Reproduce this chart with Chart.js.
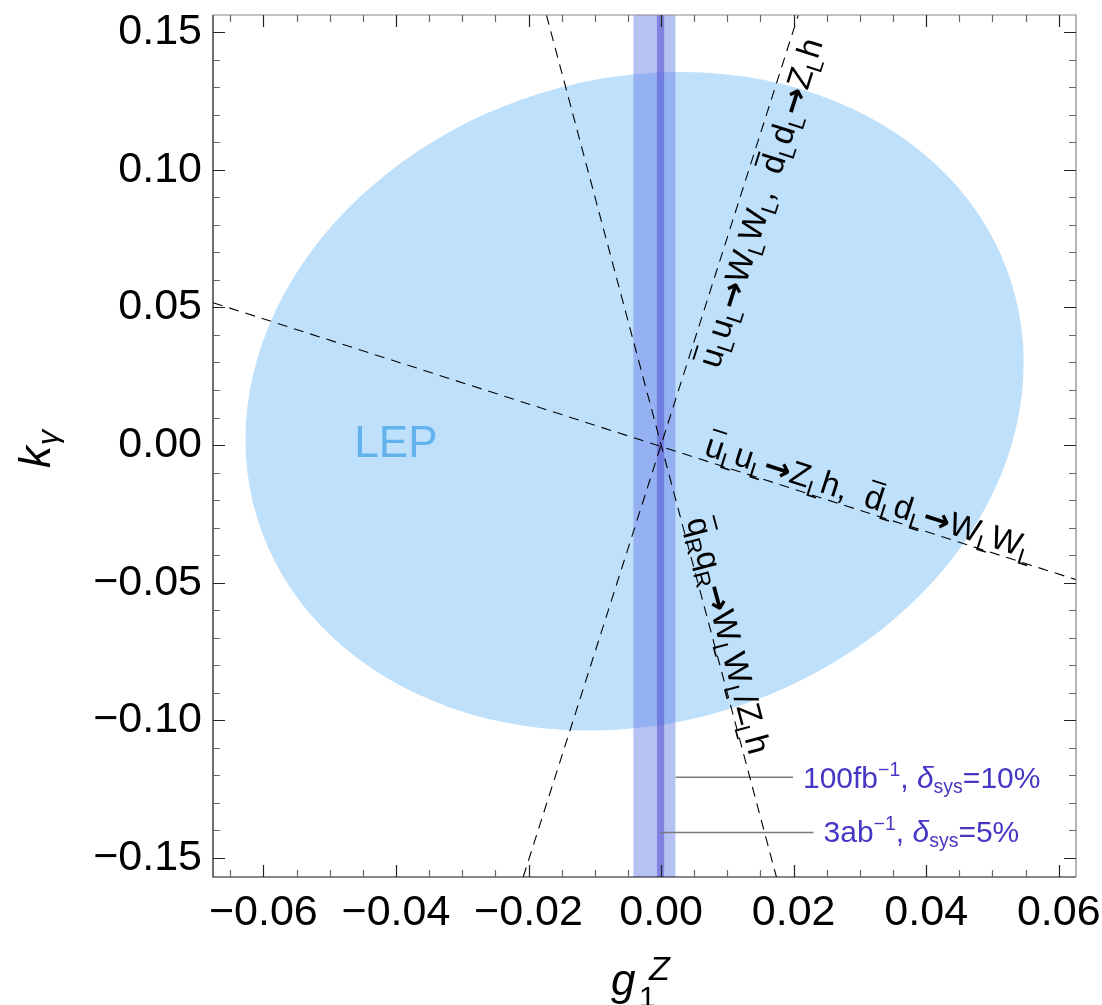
<!DOCTYPE html>
<html><head><meta charset="utf-8">
<script src="https://cdn.jsdelivr.net/npm/chart.js@4.4.0/dist/chart.umd.min.js"></script>
<style>html,body{margin:0;padding:0;background:#fff;}canvas{display:block;}</style>
</head><body>
<canvas id="c" width="1102" height="1005"></canvas>
<script>
// ---- axis ranges and ticks ----
const xRange = [-0.0676, 0.0626];
const yRange = [-0.1569, 0.1562];
const xMajorTicks = [-0.06, -0.04, -0.02, 0.00, 0.02, 0.04, 0.06];
const xMinorTicks = [-0.065, -0.055, -0.05, -0.045, -0.035, -0.03, -0.025, -0.015, -0.01, -0.005,
                     0.005, 0.01, 0.015, 0.025, 0.03, 0.035, 0.045, 0.05, 0.055];
const yMajorTicks = [-0.15, -0.10, -0.05, 0.00, 0.05, 0.10, 0.15];
const yMinorTicks = [-0.14, -0.13, -0.12, -0.11, -0.09, -0.08, -0.07, -0.06, -0.04, -0.03, -0.02, -0.01,
                     0.01, 0.02, 0.03, 0.04, 0.06, 0.07, 0.08, 0.09, 0.11, 0.12, 0.13, 0.14];

// ---- LEP ellipse: centre and two conjugate semi-diameters (data units) ----
const lepCenter = [-0.0040, 0.0159];
const lepSemiU  = [0.0587, 0.0140];
const lepSemiV  = [0.0000, 0.1188];

// ---- dashed lines (end points in data units) ----
const lineUZh = [[-0.0676, 0.0517], [0.0626, -0.0489]];   // uL uL -> ZL h, dL dL -> WL WL
const lineUWW = [[-0.0208, -0.1569], [0.0207, 0.1562]];   // uL uL -> WL WL, dL dL -> ZL h
const lineQR  = [[-0.0173, 0.1562], [0.0174, -0.1569]];   // qR qR -> WL WL / ZL h

// ---- bounds on g1Z (bands) ----
const band100fb = [-0.0042, 0.0022];
const band3ab   = [-0.00065, 0.0005];
const bandY     = [-0.1584, 0.1570];

// ---- leader lines of the band labels ----
const leader100fb = [[0.0022, -0.1207], [0.0199, -0.1207]];
const leader3ab   = [[-0.0001, -0.1407], [0.0230, -0.1407]];

const FAM = '"Liberation Sans", Arial, sans-serif';
const AFAM = '"DejaVu Sans", sans-serif';
const toPts = arr => arr.map(p => ({x: p[0], y: p[1]}));
const fmt = v => { const a = Math.abs(v).toFixed(2); return v < -1e-9 ? '\u2212' + a : a; };

// rich text helpers
const n = t => ({t});
const ov = t => ({t, o: 1});
const sb = t => ({t, s: 0.68, dy: 0.22});
const ar = () => ({t: '\u2192', s: 0.98, f: AFAM, b: 1, dy: 0.02});
function drawRich(ctx, runs, x, y, size, color) {
  let cx = x;
  ctx.fillStyle = color;
  ctx.textBaseline = 'alphabetic';
  ctx.textAlign = 'left';
  for (const r of runs) {
    const s = size * (r.s || 1);
    ctx.font = (r.i ? 'italic ' : '') + (r.b ? 'bold ' : '') + s + 'px ' + (r.f || FAM);
    const w = ctx.measureText(r.t).width;
    const by = y + (r.dy || 0) * size;
    ctx.fillText(r.t, cx, by);
    if (r.o) ctx.fillRect(cx + w * 0.1, by - 0.8 * s - 1.8, w * 0.8, 1.9);
    cx += w;
  }
  return cx - x;
}

const labelA = [ov('u'), sb('L'), n('u'), sb('L'), ar(), n('W'), sb('L'), n('W'), sb('L'), n(',  '),
                ov('d'), sb('L'), n('d'), sb('L'), ar(), n('Z'), sb('L'), n('h')];
const labelB = [ov('u'), sb('L'), n('u'), sb('L'), ar(), n('Z'), sb('L'), n('h'), n(',  '),
                ov('d'), sb('L'), n('d'), sb('L'), ar(), n('W'), sb('L'), n('W'), sb('L')];
const labelC = [ov('q'), sb('R'), n('q'), sb('R'), ar(), n('W'), sb('L'), n('W'), sb('L'), n('/'),
                n('Z'), sb('L'), n('h')];
const legend100 = [n('100fb'), {t: '\u22121', s: 0.65, dy: -0.4}, n(', '), {t: '\u03b4', i: 1}, {t: 'sys', s: 0.65, dy: 0.17}, n('=10%')];
const legend3 = [n('3ab'), {t: '\u22121', s: 0.65, dy: -0.4}, n(', '), {t: '\u03b4', i: 1}, {t: 'sys', s: 0.65, dy: 0.17}, n('=5%')];

const lineLabels = [
  {line: lineUWW, t: 0.600, off: -32, runs: labelA},
  {line: lineUZh, t: 0.566, off: 5, runs: labelB},
  {line: lineQR,  t: 0.588, off: 5, runs: labelC}
];

const drawPlugin = {
  id: 'drawPlugin',
  beforeDatasetsDraw(chart) {
    const ctx = chart.ctx, xs = chart.scales.x, ys = chart.scales.y, a = chart.chartArea;
    const cx = xs.getPixelForValue(lepCenter[0]), cy = ys.getPixelForValue(lepCenter[1]);
    const ux = xs.getPixelForValue(lepCenter[0] + lepSemiU[0]) - cx, uy = ys.getPixelForValue(lepCenter[1] + lepSemiU[1]) - cy;
    const vx = xs.getPixelForValue(lepCenter[0] + lepSemiV[0]) - cx, vy = ys.getPixelForValue(lepCenter[1] + lepSemiV[1]) - cy;
    ctx.save();
    ctx.beginPath(); ctx.rect(a.left, a.top, a.right - a.left, a.bottom - a.top); ctx.clip();
    ctx.save();
    ctx.transform(ux, uy, vx, vy, cx, cy);
    ctx.beginPath(); ctx.arc(0, 0, 1, 0, 2 * Math.PI);
    ctx.restore();
    ctx.fillStyle = '#BFE0FA';
    ctx.fill();
    ctx.font = '44px ' + FAM; ctx.fillStyle = '#62B2EE'; ctx.textAlign = 'center'; ctx.textBaseline = 'middle';
    ctx.fillText('LEP', xs.getPixelForValue(-0.0400), ys.getPixelForValue(0.0));
    ctx.restore();
  },
  afterDatasetsDraw(chart) {
    const ctx = chart.ctx, xs = chart.scales.x, ys = chart.scales.y, a = chart.chartArea;
    ctx.save();
    // frame
    ctx.lineWidth = 1.2;
    ctx.strokeStyle = '#888';
    ctx.beginPath(); ctx.moveTo(a.left, a.top); ctx.lineTo(a.right, a.top); ctx.lineTo(a.right, a.bottom); ctx.stroke();
    ctx.strokeStyle = '#111';
    ctx.beginPath(); ctx.moveTo(a.left, a.top); ctx.lineTo(a.left, a.bottom); ctx.lineTo(a.right, a.bottom); ctx.stroke();
    // ticks
    const tick = (vals, len, col) => {
      ctx.strokeStyle = col; ctx.lineWidth = 1.2;
      ctx.beginPath();
      for (const v of vals.x) {
        const p = Math.round(xs.getPixelForValue(v)) + 0.5;
        ctx.moveTo(p, a.bottom); ctx.lineTo(p, a.bottom - len);
        ctx.moveTo(p, a.top); ctx.lineTo(p, a.top + len);
      }
      for (const v of vals.y) {
        const p = Math.round(ys.getPixelForValue(v)) + 0.5;
        ctx.moveTo(a.left, p); ctx.lineTo(a.left + len, p);
        ctx.moveTo(a.right, p); ctx.lineTo(a.right - len, p);
      }
      ctx.stroke();
    };
    tick({x: xMinorTicks, y: yMinorTicks}, 7, '#666');
    tick({x: xMajorTicks, y: yMajorTicks}, 12, '#222');

    // labels along dashed lines
    ctx.beginPath(); ctx.rect(a.left, a.top, a.right - a.left, a.bottom - a.top); ctx.clip();
    for (const L of lineLabels) {
      const x1 = xs.getPixelForValue(L.line[0][0]), y1 = ys.getPixelForValue(L.line[0][1]);
      const x2 = xs.getPixelForValue(L.line[1][0]), y2 = ys.getPixelForValue(L.line[1][1]);
      const ang = Math.atan2(y2 - y1, x2 - x1);
      const ax = x1 + (x2 - x1) * L.t, ay = y1 + (y2 - y1) * L.t;
      ctx.save();
      ctx.translate(ax, ay); ctx.rotate(ang); ctx.translate(0, -L.off);
      drawRich(ctx, L.runs, 0, 0, 33, '#000');
      ctx.restore();
    }
    // band legend texts
    const l1x = xs.getPixelForValue(leader100fb[1][0]), l1y = ys.getPixelForValue(leader100fb[1][1]);
    drawRich(ctx, legend100, l1x + 10, l1y + 10.5, 30, '#4636C4');
    const l2x = xs.getPixelForValue(leader3ab[1][0]), l2y = ys.getPixelForValue(leader3ab[1][1]);
    drawRich(ctx, legend3, l2x + 10, l2y + 9.5, 30, '#4636C4');
    ctx.restore();

    // axis titles
    ctx.save();
    ctx.fillStyle = '#000'; ctx.textAlign = 'left'; ctx.textBaseline = 'alphabetic';
    ctx.font = 'italic 44px ' + FAM; ctx.fillText('g', 611, 995);
    ctx.font = '30px ' + FAM; ctx.fillText('1', 639, 1007);
    ctx.font = 'italic 34px ' + FAM; ctx.fillText('Z', 649, 980);
    ctx.translate(50, 468); ctx.rotate(-Math.PI / 2);
    ctx.font = 'italic 44px ' + FAM; ctx.fillText('k', 0, 0);
    const kw = ctx.measureText('k').width;
    ctx.font = 'italic 30px ' + FAM; ctx.fillText('\u03b3', kw + 1, 8);
    ctx.restore();
  }
};

const dashed = (pts) => ({data: toPts(pts), showLine: true, borderColor: '#000', borderWidth: 1.1,
  borderDash: [10, 7], pointRadius: 0, fill: false});
const solid = (pts) => ({data: toPts(pts), showLine: true, borderColor: '#7a7a7a', borderWidth: 1.5,
  pointRadius: 0, fill: false});
const band = (b, col) => ({data: [{x: b[0], y: bandY[1]}, {x: b[1], y: bandY[1]}], showLine: true,
  borderWidth: 0.01, borderColor: 'rgba(0,0,0,0)', backgroundColor: col, pointRadius: 0,
  fill: {value: bandY[0]}, clip: {left: 0, right: 0, top: 3, bottom: 5}});

new Chart(document.getElementById('c'), {
  type: 'scatter',
  data: {
    datasets: [
      Object.assign(dashed(lineUZh), {label: 'uu→Zh, dd→WW'}),
      Object.assign(dashed(lineUWW), {label: 'uu→WW, dd→Zh'}),
      Object.assign(dashed(lineQR), {label: 'qRqR→WW/Zh'}),
      Object.assign(solid(leader100fb), {label: 'leader 100fb'}),
      Object.assign(solid(leader3ab), {label: 'leader 3ab'}),
      Object.assign(band(band3ab, 'rgba(90,90,210,0.6)'), {label: '3ab-1, 5%'}),
      Object.assign(band(band100fb, 'rgba(95,120,230,0.45)'), {label: '100fb-1, 10%'})
    ]
  },
  options: {
    responsive: false,
    animation: false,
    layout: {padding: {top: 15, right: 26, left: 0, bottom: 0}},
    plugins: {legend: {display: false}, tooltip: {enabled: false}},
    scales: {
      x: {
        type: 'linear', min: xRange[0], max: xRange[1],
        grid: {display: false, drawTicks: false}, border: {display: false},
        ticks: {autoSkip: false, maxRotation: 0, minRotation: 0, color: '#000', padding: 10,
                font: {size: 43, family: FAM}, callback: v => fmt(v)},
        afterBuildTicks: s => { s.ticks = xMajorTicks.map(v => ({value: v})); },
        afterFit: s => { s.height = 128; s.paddingLeft = 0; s.paddingRight = 0; }
      },
      y: {
        type: 'linear', min: yRange[0], max: yRange[1],
        grid: {display: false, drawTicks: false}, border: {display: false},
        ticks: {autoSkip: false, color: '#000', padding: 11,
                font: {size: 43, family: FAM}, callback: v => fmt(v)},
        afterBuildTicks: s => { s.ticks = yMajorTicks.map(v => ({value: v})); },
        afterFit: s => { s.width = 213; s.paddingTop = 0; s.paddingBottom = 0; }
      }
    }
  },
  plugins: [drawPlugin]
});
</script>
</body></html>
